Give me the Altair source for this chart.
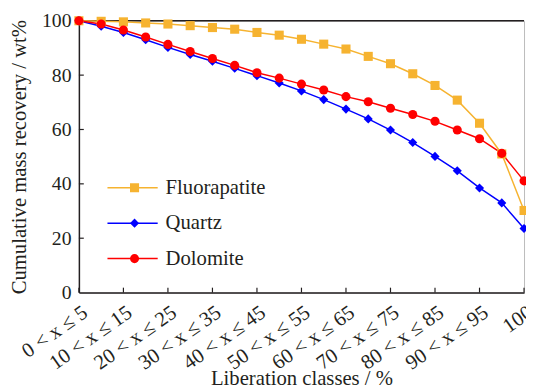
import json
import altair as alt
import pandas as pd

classes = ["0 < x ≤ 5", "5 < x ≤ 10", "10 < x ≤ 15", "15 < x ≤ 20", "20 < x ≤ 25",
           "25 < x ≤ 30", "30 < x ≤ 35", "35 < x ≤ 40", "40 < x ≤ 45", "45 < x ≤ 50",
           "50 < x ≤ 55", "55 < x ≤ 60", "60 < x ≤ 65", "65 < x ≤ 70", "70 < x ≤ 75",
           "75 < x ≤ 80", "80 < x ≤ 85", "85 < x ≤ 90", "90 < x ≤ 95", "95 < x < 100", "100"]

fluorapatite = [100, 99.8, 99.6, 99.2, 98.8, 98.2, 97.5, 96.9, 95.7, 94.7, 93.2,
                91.4, 89.6, 86.9, 84.2, 80.5, 76.2, 70.8, 62.3, 51.0, 30.2]
quartz = [100, 98.0, 95.7, 93.0, 90.2, 87.6, 85.1, 82.5, 79.8, 77.1, 74.2,
          71.0, 67.5, 63.9, 59.8, 55.2, 50.1, 44.8, 38.5, 33.0, 23.6]
dolomite = [100, 98.8, 96.6, 94.0, 91.3, 88.7, 86.1, 83.6, 80.9, 78.9, 76.7,
            74.5, 72.1, 70.2, 67.8, 65.5, 63.0, 59.8, 56.6, 51.2, 41.1]

series_names = ["Fluorapatite", "Quartz", "Dolomite"]
series_values = [fluorapatite, quartz, dolomite]
colors = ["#F6B330", "#0000FF", "#FF0000"]
shapes = ["square", "diamond", "circle"]

y_ticks = [0, 20, 40, 60, 80, 100]
x_tick_idx = list(range(0, len(classes), 2))

rows = []
for name, vals in zip(series_names, series_values):
    for i, v in enumerate(vals):
        rows.append({"idx": i, "value": v, "series": name, "series_b": name})
df = pd.DataFrame(rows)

FONT = "Liberation Serif"
INK = "#231f20"

label_expr = json.dumps(classes, ensure_ascii=False) + "[datum.value]"

x_enc = alt.X("idx:Q", scale=alt.Scale(domain=[0, len(classes) - 1], nice=False, zero=False),
              axis=alt.Axis(values=x_tick_idx, labelExpr=label_expr, ticks=False, grid=False,
                            labelAngle=-35, labelAlign="right", labelBaseline="top",
                            labelFont=FONT, labelFontSize=21, labelColor=INK, labelPadding=9,
                            labelOverlap=False, labelBound=False, labelFlush=False,
                            domainColor=INK, domainWidth=1.5,
                            title="Liberation classes / %", titleFont=FONT, titleFontSize=21,
                            titleFontWeight="normal", titleColor=INK,
                            titleBaseline="middle", titleY=87))
y_enc = alt.Y("value:Q", scale=alt.Scale(domain=[0, 100], nice=False),
              axis=alt.Axis(values=y_ticks, ticks=False, grid=False,
                            labelFont=FONT, labelFontSize=20, labelColor=INK, labelPadding=8,
                            domainColor=INK, domainWidth=1.5,
                            title="Cumulative mass recovery / wt%", titleFont=FONT, titleFontSize=21,
                            titleFontWeight="normal", titleColor=INK,
                            titleBaseline="middle", titleX=-60))

legend_common = dict(orient="none", legendY=159, title=None, padding=0, clipHeight=21,
                     labelFont=FONT, labelFontSize=21, rowPadding=14, labelOffset=7, labelLimit=0)

leg_a = alt.Legend(legendX=28, symbolType="stroke", symbolSize=2601, symbolStrokeWidth=1.5,
                   labelColor=INK, **legend_common)
leg_b = alt.Legend(legendX=46, symbolSize=85, symbolStrokeWidth=0, labelExpr="''", **legend_common)

lines = alt.Chart(df).mark_line(strokeWidth=1.5).encode(
    x=x_enc, y=y_enc,
    stroke=alt.Stroke("series:N", scale=alt.Scale(domain=series_names, range=colors), legend=leg_a),
)

points = alt.Chart(df).mark_point(filled=True, size=85, opacity=1, strokeWidth=0).encode(
    x="idx:Q", y="value:Q",
    fill=alt.Fill("series_b:N", scale=alt.Scale(domain=series_names, range=colors), legend=leg_b),
    shape=alt.Shape("series_b:N", scale=alt.Scale(domain=series_names, range=shapes), legend=leg_b),
)

xt = pd.DataFrame({"idx": x_tick_idx, "value": [0] * len(x_tick_idx), "value2": [1.8] * len(x_tick_idx)})
xticks = alt.Chart(xt).mark_rule(color=INK, strokeWidth=1.2).encode(
    x="idx:Q", y="value:Q", y2="value2:Q")

yt = pd.DataFrame({"value": y_ticks[1:-1], "idx": [0] * 4, "idx2": [0.22] * 4})
yticks = alt.Chart(yt).mark_rule(color=INK, strokeWidth=1.2).encode(
    y="value:Q", x="idx:Q", x2="idx2:Q")

top = alt.Chart(pd.DataFrame({"value": [100]})).mark_rule(color=INK, strokeWidth=1.5).encode(
    y="value:Q")

chart = alt.layer(xticks, yticks, top, lines, points).resolve_scale(
    stroke="independent", fill="independent", shape="independent"
).properties(
    width=452, height=276,
    autosize=alt.AutoSizeParams(type="none"),
    padding={"left": 72, "top": 10, "right": 2, "bottom": 98},
).configure(background="white", font=FONT).configure_view(stroke="#bbbbbb")

chart.save("out.html", embed_options={"renderer": "svg", "actions": False})
